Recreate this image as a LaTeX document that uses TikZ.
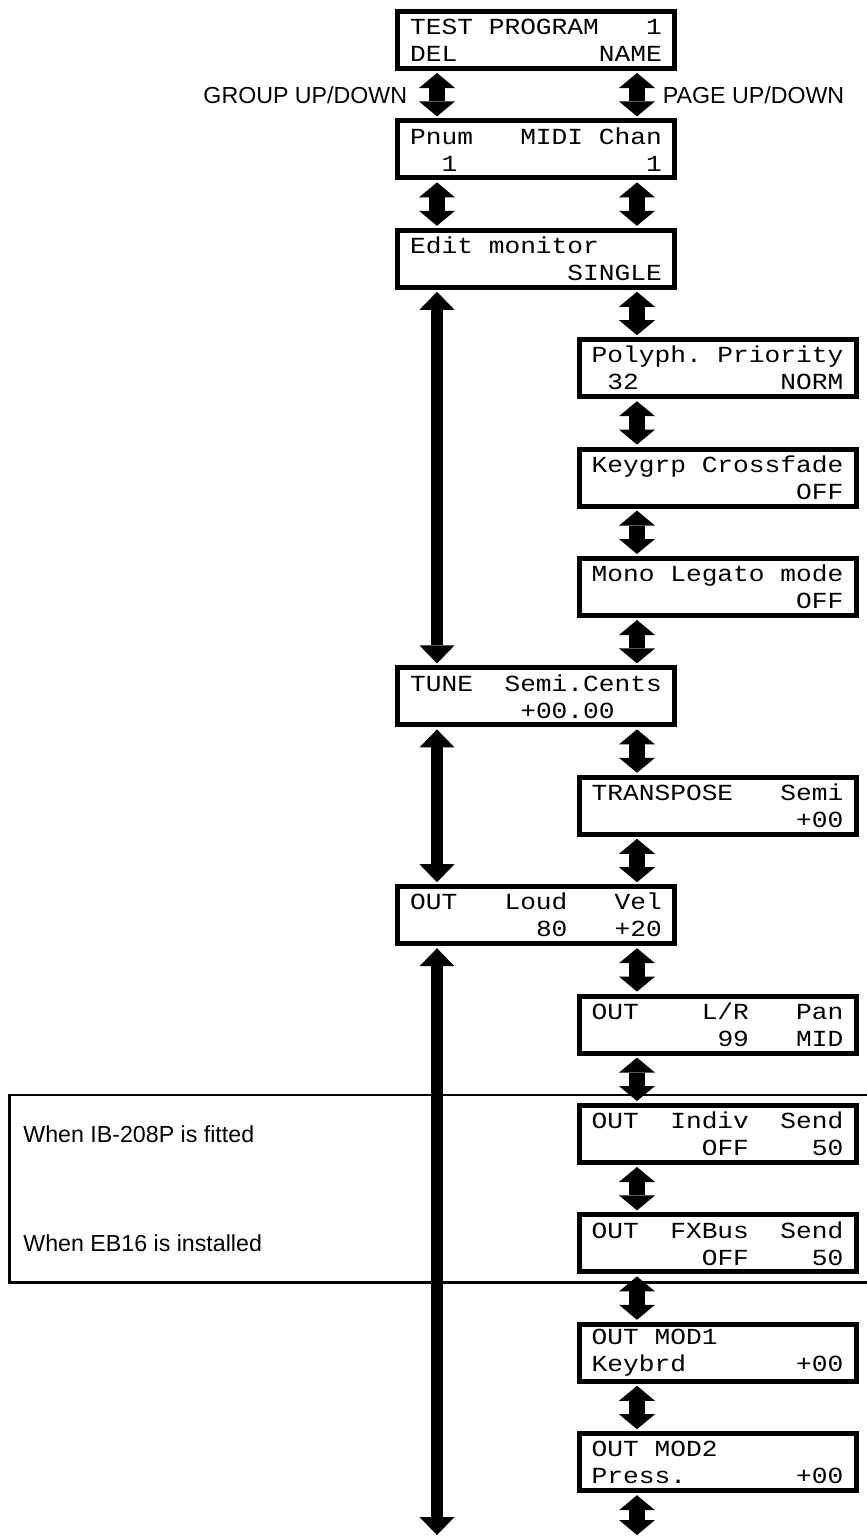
\documentclass[tikz,border=0pt]{standalone}
\usepackage{fontspec}
\setmainfont{Liberation Sans}
\newfontfamily\lcdfont[FakeStretch=1.14]{Liberation Mono}
\usepackage{tikz}
\usetikzlibrary{positioning, arrows.meta, calc}
\frenchspacing
\newcommand{\lcdrows}[2]{\hbox{#1}\\\hbox{#2}}

\begin{document}
\begin{tikzpicture}[
  lcd/.style={rectangle, draw, line width=2.5pt, minimum width=138.5pt,
              minimum height=28.5pt, inner sep=0pt, align=left,
              font=\lcdfont\fontsize{11.5}{13.5}\selectfont},
  note/.style={inner sep=0pt, text height=8.4pt, text depth=0pt,
               font=\fontsize{11.6}{14}\selectfont},
  updown/.style={line width=8pt,
    {Triangle[width=18pt,length=7.5pt,line width=0pt,sep=1pt]}-{Triangle[width=18pt,length=7.5pt,line width=0pt,sep=1pt]}},
  longarr/.style={line width=6pt,
    {Triangle[width=17.5pt,length=9pt,line width=0pt,sep=1pt]}-{Triangle[width=17.5pt,length=9pt,line width=0pt,sep=1pt]}},
  bracket/.style={line width=1.25pt},
  node distance=23.7pt,
]
\useasboundingbox (0,0) rectangle (433.5pt,-768.5pt);
\node[lcd] (test) at (268pt,-20pt) {\lcdrows{TEST~PROGRAM~~~1}{DEL~~~~~~~~~NAME}};
\node[lcd, below=of test] (pnum) {\lcdrows{Pnum~~~MIDI~Chan}{~~1~~~~~~~~~~~~1}};
\node[lcd, below=of pnum] (edit) {\lcdrows{Edit~monitor}{~~~~~~~~~~SINGLE}};
\node[lcd, below=of edit, xshift=90.75pt] (poly) {\lcdrows{Polyph.~Priority}{~32~~~~~~~~~NORM}};
\node[lcd, below=of poly] (keygrp) {\lcdrows{Keygrp~Crossfade}{~~~~~~~~~~~~~OFF}};
\node[lcd, below=of keygrp] (mono) {\lcdrows{Mono~Legato~mode}{~~~~~~~~~~~~~OFF}};
\node[lcd, below=of mono, xshift=-90.75pt] (tune) {\lcdrows{TUNE~~Semi.Cents}{~~~~~~~+00.00}};
\node[lcd, below=of tune, xshift=90.75pt] (transp) {\lcdrows{TRANSPOSE~~~Semi}{~~~~~~~~~~~~~+00}};
\node[lcd, below=of transp, xshift=-90.75pt] (loud) {\lcdrows{OUT~~~Loud~~~Vel}{~~~~~~~~80~~~+20}};
\node[lcd, below=of loud, xshift=90.75pt] (pan) {\lcdrows{OUT~~~~L/R~~~Pan}{~~~~~~~~99~~~MID}};
\node[lcd, below=of pan] (indiv) {\lcdrows{OUT~~Indiv~~Send}{~~~~~~~OFF~~~~50}};
\node[lcd, below=of indiv] (fxbus) {\lcdrows{OUT~~FXBus~~Send}{~~~~~~~OFF~~~~50}};
\node[lcd, below=of fxbus] (modone) {\lcdrows{OUT~MOD1}{Keybrd~~~~~~~+00}};
\node[lcd, below=of modone] (modtwo) {\lcdrows{OUT~MOD2}{Press.~~~~~~~+00}};

\coordinate (lcol) at ([xshift=21pt]test.west);
\coordinate (rcol) at ([xshift=121pt]test.west);
\coordinate (bot) at (0,-768.5pt);
\coordinate (wl) at (4.75pt,0);
\coordinate (wr) at (433.5pt,0);

% group keys
\draw[updown] (test.south -| lcol) -- (pnum.north -| lcol);
\draw[updown] (pnum.south -| lcol) -- (edit.north -| lcol);
\draw[longarr] (edit.south -| lcol) -- (tune.north -| lcol);
\draw[longarr] (tune.south -| lcol) -- (loud.north -| lcol);
\draw[longarr] (loud.south -| lcol) -- (bot -| lcol);

% page keys
\draw[updown] (test.south -| rcol) -- (pnum.north -| rcol);
\draw[updown] (pnum.south -| rcol) -- (edit.north -| rcol);
\draw[updown] (edit.south -| rcol) -- (poly.north -| rcol);
\draw[updown] (poly.south -| rcol) -- (keygrp.north -| rcol);
\draw[updown] (keygrp.south -| rcol) -- (mono.north -| rcol);
\draw[updown] (mono.south -| rcol) -- (tune.north -| rcol);
\draw[updown] (tune.south -| rcol) -- (transp.north -| rcol);
\draw[updown] (transp.south -| rcol) -- (loud.north -| rcol);
\draw[updown] (loud.south -| rcol) -- (pan.north -| rcol);
\draw[updown] (pan.south -| rcol) -- (indiv.north -| rcol);
\draw[updown] (indiv.south -| rcol) -- (fxbus.north -| rcol);
\draw[updown] (fxbus.south -| rcol) -- (modone.north -| rcol);
\draw[updown] (modone.south -| rcol) -- (modtwo.north -| rcol);
\draw[updown] (modtwo.south -| rcol) -- (bot -| rcol);

\node[note, anchor=east, xshift=6.25pt] (group) at ($(test.south west)!.5!(pnum.north west)$) {GROUP UP/DOWN};
\node[note, anchor=west, xshift=-7.25pt] (page) at ($(test.south east)!.5!(pnum.north east)$) {PAGE UP/DOWN};

% option boards
\coordinate (brtop) at ([yshift=4pt]indiv.north);
\coordinate (brbot) at ([yshift=-4pt]fxbus.south);
\draw[bracket] (brtop -| wr) -- (brtop -| wl) -- (brbot -| wl) -- (brbot -| wr);
\node[note, anchor=west, xshift=6.75pt] (ib) at (wl |- indiv) {When IB-208P is fitted};
\node[note, anchor=west, xshift=6.75pt] (eb) at (wl |- fxbus) {When EB16 is installed};
\end{tikzpicture}
\end{document}
